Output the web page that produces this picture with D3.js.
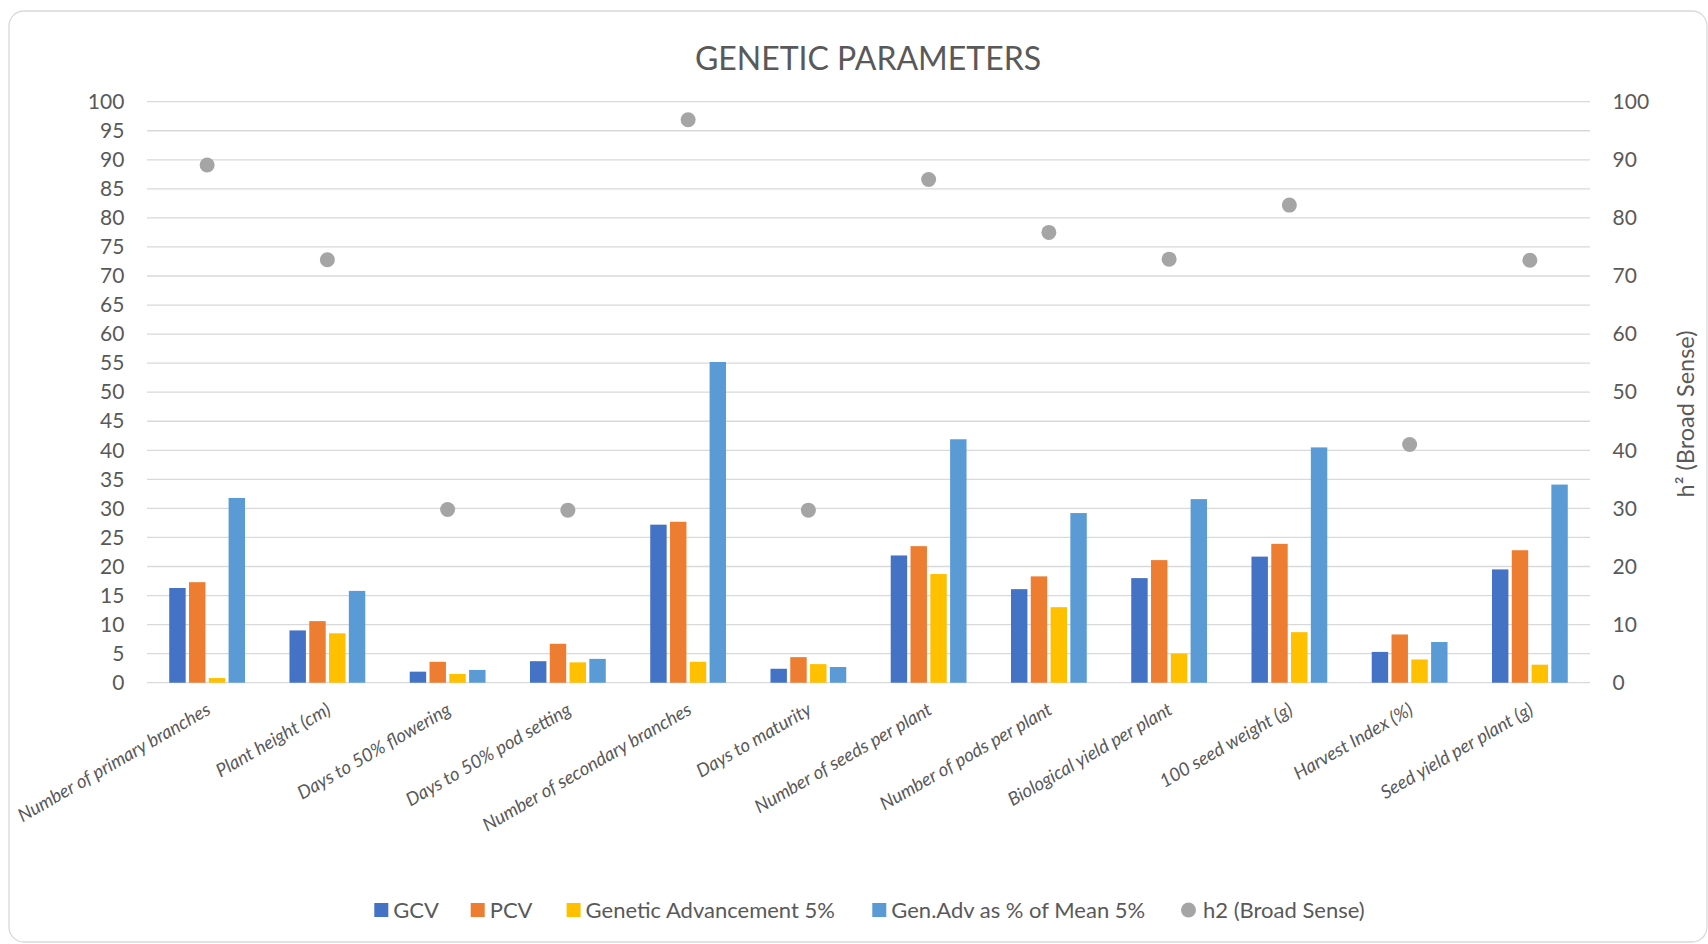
<!DOCTYPE html>
<html>
<head>
<meta charset="utf-8">
<script src="https://cdn.jsdelivr.net/npm/d3@7"></script>
<style>
  html, body { margin: 0; padding: 0; background: #fff; }
  svg { display: block; }
  text { font-family: Lato, "Open Sans", sans-serif; fill: #595959; }
</style>
</head>
<body>
<svg id="chart" width="1708" height="944"></svg>
<script>
const categories = [
  "Number of primary branches", "Plant height (cm)", "Days to 50% flowering",
  "Days to 50% pod setting", "Number of secondary branches", "Days to maturity",
  "Number of seeds per plant", "Number of pods per plant", "Biological yield per plant",
  "100 seed weight (g)", "Harvest Index (%)", "Seed yield per plant (g)"
];
const seriesNames = ["GCV", "PCV", "Genetic Advancement 5%", "Gen.Adv as % of Mean 5%"];
const gcv  = [16.3, 9.0, 1.9, 3.7, 27.2, 2.4, 21.9, 16.1, 18.0, 21.7, 5.3, 19.5];
const pcv  = [17.3, 10.6, 3.6, 6.7, 27.7, 4.4, 23.5, 18.3, 21.1, 23.9, 8.3, 22.8];
const ga   = [0.8, 8.5, 1.5, 3.5, 3.6, 3.2, 18.7, 13.0, 5.0, 8.7, 4.0, 3.1];
const gam  = [31.8, 15.8, 2.2, 4.1, 55.2, 2.7, 41.9, 29.2, 31.6, 40.5, 7.0, 34.1];
const h2   = [89.1, 72.8, 29.8, 29.7, 96.9, 29.7, 86.6, 77.5, 72.9, 82.2, 41.0, 72.7];
const leftTicks = d3.range(0, 101, 5);
const rightTicks = d3.range(0, 101, 10);
const colors = ["#4472c4", "#ed7d31", "#ffc000", "#5b9bd5"];
const h2Color = "#a5a5a5";
const seriesValues = [gcv, pcv, ga, gam];

const svg = d3.select("#chart");
const mLeft = 147, mRight = 1590, mTop = 101.7, mBottom = 682.7;

// border
svg.append("rect").attr("x", 9).attr("y", 11).attr("width", 1698).attr("height", 931)
  .attr("rx", 15).attr("fill", "#fff").attr("stroke", "#d9d9d9").attr("stroke-width", 1.3);

const x = d3.scaleBand().domain(categories).range([mLeft, mRight]).padding(0);
const groupW = 75.8;
const xs = d3.scaleBand().domain(seriesNames).range([0, groupW]).paddingInner(0.17).paddingOuter(0);
const y = d3.scaleLinear().domain([0, 100]).range([mBottom, mTop]);
const y2 = d3.scaleLinear().domain([0, 100]).range([mBottom, mTop]);

// gridlines
svg.append("g").selectAll("line").data(leftTicks).join("line")
  .attr("x1", mLeft).attr("x2", mRight)
  .attr("y1", d => y(d)).attr("y2", d => y(d))
  .attr("stroke", "#d9d9d9").attr("stroke-width", 1.3);

// left axis
const gl = svg.append("g").attr("transform", `translate(${mLeft},0)`)
  .call(d3.axisLeft(y).tickValues(leftTicks).tickSize(0).tickPadding(22.6));
gl.select(".domain").remove();
gl.selectAll("text").style("font-size", "21px").style("font-family", "Lato").attr("fill", "#595959");

// right axis
const gr = svg.append("g").attr("transform", `translate(${mRight},0)`)
  .call(d3.axisRight(y2).tickValues(rightTicks).tickSize(0).tickPadding(22.6));
gr.select(".domain").remove();
gr.selectAll("text").style("font-size", "21px").style("font-family", "Lato").attr("fill", "#595959");

// bars
const groups = svg.append("g").selectAll("g").data(categories).join("g")
  .attr("transform", d => `translate(${x(d) + x.bandwidth() / 2 - groupW / 2},0)`);
groups.selectAll("rect").data((d, i) => seriesNames.map((s, j) => ({ s, v: seriesValues[j][i], j })))
  .join("rect")
  .attr("x", d => xs(d.s)).attr("width", xs.bandwidth())
  .attr("y", d => y(d.v)).attr("height", d => y(0) - y(d.v))
  .attr("fill", d => colors[d.j]);

// h2 points
svg.append("g").selectAll("circle").data(categories).join("circle")
  .attr("cx", d => x(d) + x.bandwidth() / 2)
  .attr("cy", (d, i) => y2(h2[i]))
  .attr("r", 7.5).attr("fill", h2Color);

// category labels
svg.append("g").selectAll("text").data(categories).join("text")
  .attr("transform", d => `translate(${x(d) + x.bandwidth() / 2 - 2},${mBottom + 19}) rotate(-30)`)
  .attr("text-anchor", "end").attr("dy", "0.72em")
  .style("font-size", "18.5px").style("font-style", "italic")
  .text(d => d);

// title
svg.append("text").attr("x", 868).attr("y", 70).attr("text-anchor", "middle")
  .style("font-size", "32px").text("GENETIC PARAMETERS");

// right axis title
svg.append("text").attr("transform", "translate(1685.6,414) rotate(-90)")
  .attr("text-anchor", "middle").attr("dy", "0.35em")
  .style("font-size", "23.5px").text("h² (Broad Sense)");

// legend
const legendItems = [
  { name: "GCV", color: colors[0], type: "rect", x: 374.3 },
  { name: "PCV", color: colors[1], type: "rect", x: 470.7 },
  { name: "Genetic Advancement 5%", color: colors[2], type: "rect", x: 566.6 },
  { name: "Gen.Adv as % of Mean 5%", color: colors[3], type: "rect", x: 872.3 },
  { name: "h2 (Broad Sense)", color: h2Color, type: "circle", x: 1181 }
];
const ly = 910;
const lg = svg.append("g").selectAll("g").data(legendItems).join("g")
  .attr("transform", d => `translate(${d.x},${ly})`);
lg.filter(d => d.type === "rect").append("rect")
  .attr("x", 0).attr("y", -7).attr("width", 14).attr("height", 14).attr("fill", d => d.color);
lg.filter(d => d.type === "circle").append("circle")
  .attr("cx", 7.5).attr("cy", 0).attr("r", 7.5).attr("fill", d => d.color);
lg.append("text").attr("x", d => d.type === "circle" ? 22 : 19).attr("dy", "0.36em")
  .style("font-size", "22px").text(d => d.name);
</script>
</body>
</html>
